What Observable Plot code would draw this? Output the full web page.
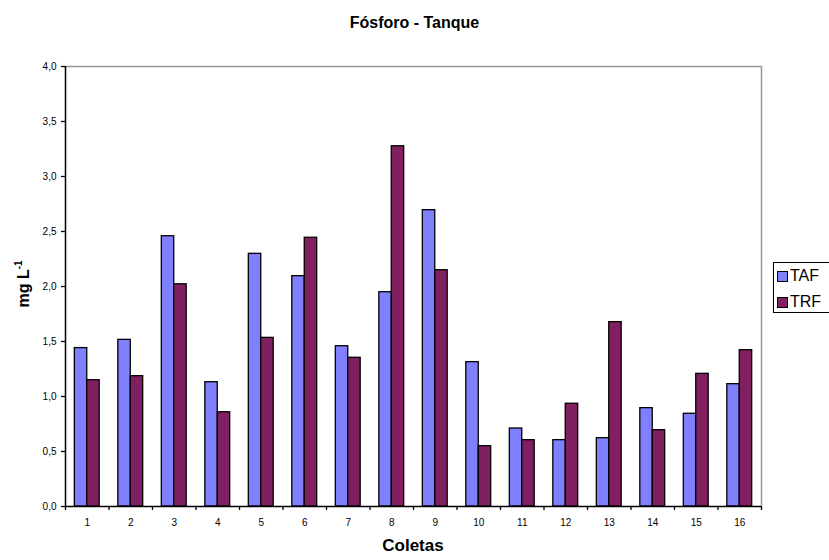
<!DOCTYPE html>
<html>
<head>
<meta charset="utf-8">
<script src="https://cdn.jsdelivr.net/npm/d3@7"></script>
<script src="https://cdn.jsdelivr.net/npm/@observablehq/plot@0.6"></script>
<style>
  html, body { margin: 0; padding: 0; background: #fff; overflow: hidden; }
  #wrap { position: relative; width: 829px; height: 560px; font-family: "Liberation Sans", Arial, sans-serif; }
  .title { position: absolute; left: 0; width: 829px; top: 14px; text-align: center; font-weight: bold; font-size: 16px; }
  .xlab { position: absolute; left: 65px; width: 696px; top: 536px; text-align: center; font-weight: bold; font-size: 17px; }
  .ylab { position: absolute; left: 23px; top: 284px; transform: translate(-50%, -50%) rotate(-90deg); font-weight: bold; font-size: 16px; white-space: nowrap; }
  .ylab sup { font-size: 10px; vertical-align: 7px; }
  .legend { position: absolute; left: 773px; top: 262px; width: 70px; height: 51px; border: 1px solid #000; box-sizing: border-box; font-size: 16px; }
  .legend .row { position: absolute; left: 3px; display: flex; align-items: center; }
  .legend .sw { width: 9px; height: 9px; border: 1px solid #000; margin-right: 2px; }
</style>
</head>
<body>
<div id="wrap"></div>
<script>
const coletas = [1, 2, 3, 4, 5, 6, 7, 8, 9, 10, 11, 12, 13, 14, 15, 16];
const series = ["TAF", "TRF"];
const colors = ["#8080FF", "#802060"];
const taf = [1.44, 1.515, 2.457, 1.13, 2.297, 2.094, 1.457, 1.948, 2.694, 1.312, 0.709, 0.603, 0.621, 0.894, 0.843, 1.112];
const trf = [1.148, 1.185, 2.02, 0.857, 1.533, 2.443, 1.352, 3.275, 2.148, 0.548, 0.603, 0.934, 1.676, 0.694, 1.206, 1.421];
const yTicks = [0, 0.5, 1, 1.5, 2, 2.5, 3, 3.5, 4];
const titulo = "Fósforo - Tanque";
const xTitulo = "Coletas";

const data = coletas.flatMap((c, i) => [
  {coleta: c, serie: "TAF", valor: taf[i], k: 0},
  {coleta: c, serie: "TRF", valor: trf[i], k: 1}
]);
const bw = 1 / 3.5; // Excel gap width 150%
const bounds = d3.range(0.5, coletas.length + 1, 1);

const chart = Plot.plot({
  width: 829,
  height: 560,
  marginLeft: 65,
  marginRight: 68,
  marginTop: 66,
  marginBottom: 54,
  style: {fontFamily: "Liberation Sans, Arial, sans-serif", fontSize: "10px", color: "#000", background: "#fff"},
  x: {domain: [0.5, coletas.length + 0.5]},
  y: {domain: [0, 4]},
  color: {domain: series, range: colors},
  marks: [
    Plot.ruleY([4], {stroke: "#999", strokeWidth: 1.5}),
    Plot.ruleX([coletas.length + 0.5], {stroke: "#999", strokeWidth: 1.5}),
    Plot.rect(data, {
      x1: d => d.coleta - bw + d.k * bw,
      x2: d => d.coleta + d.k * bw,
      y1: 0,
      y2: "valor",
      fill: "serie",
      stroke: "#000",
      strokeWidth: 1.3
    }),
    Plot.ruleX([0.5], {stroke: "#000", strokeWidth: 1.5}),
    Plot.ruleY([0], {stroke: "#000", strokeWidth: 1.5}),
    Plot.axisY({ticks: yTicks, tickFormat: d => d.toFixed(1).replace(".", ","), tickSize: 4, tickPadding: 5, label: null, stroke: "#000", strokeWidth: 1.3}),
    Plot.axisX({ticks: bounds, tickFormat: () => "", tickSize: 4, label: null, stroke: "#000", strokeWidth: 1.3}),
    Plot.axisX({ticks: coletas, tickFormat: d => String(d), tickSize: 0, tickPadding: 12, label: null})
  ]
});

const wrap = document.getElementById("wrap");
wrap.appendChild(chart);

const t = document.createElement("div");
t.className = "title"; t.textContent = titulo; wrap.appendChild(t);
const xl = document.createElement("div");
xl.className = "xlab"; xl.textContent = xTitulo; wrap.appendChild(xl);
const yl = document.createElement("div");
yl.className = "ylab"; yl.innerHTML = "mg L<sup>-1</sup>"; wrap.appendChild(yl);

const lg = document.createElement("div");
lg.className = "legend";
series.forEach((s, i) => {
  const r = document.createElement("div");
  r.className = "row";
  r.style.top = (4 + i * 26) + "px";
  const sw = document.createElement("div");
  sw.className = "sw"; sw.style.background = colors[i];
  const tx = document.createElement("span");
  tx.textContent = s;
  r.appendChild(sw); r.appendChild(tx);
  lg.appendChild(r);
});
wrap.appendChild(lg);
</script>
</body>
</html>
